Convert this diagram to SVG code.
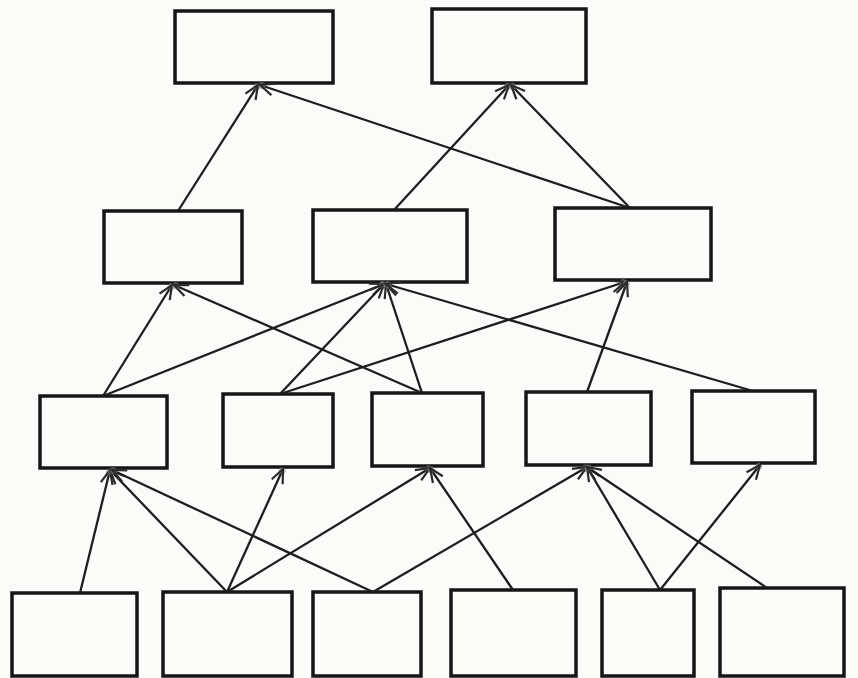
<svg xmlns="http://www.w3.org/2000/svg" width="858" height="678" viewBox="0 0 858 678">
<style>
.box{fill:none;stroke:#161616;stroke-width:3.5}
.edge{fill:none;stroke:#1e1e1e;stroke-width:2.3;marker-end:url(#arr)}
</style>
<defs>
<marker id="arr" viewBox="-16 -8 18 16" refX="0" refY="0" markerWidth="18" markerHeight="16" orient="auto" markerUnits="userSpaceOnUse">
<circle cx="-2" cy="0" r="3.5" fill="#888" opacity="0.55"/>
<path d="M-14,-6 L0,0 L-14,6" fill="none" stroke="#2a2a2a" stroke-width="2.2"/>
</marker>
</defs>
<rect x="0" y="0" width="858" height="678" fill="#fbfbfa"/>
<g id="T1"><rect class="box" x="175" y="11" width="158" height="72"/></g>
<g id="T2"><rect class="box" x="432" y="9" width="154" height="74"/></g>
<g id="B1"><rect class="box" x="104" y="211" width="138" height="72"/></g>
<g id="B2"><rect class="box" x="313" y="210" width="154" height="72"/></g>
<g id="B3"><rect class="box" x="555" y="208" width="156" height="72"/></g>
<g id="C1"><rect class="box" x="40" y="396" width="127" height="72"/></g>
<g id="C2"><rect class="box" x="223" y="394" width="110" height="73"/></g>
<g id="C3"><rect class="box" x="372" y="393" width="111" height="73"/></g>
<g id="C4"><rect class="box" x="526" y="392" width="125" height="73"/></g>
<g id="C5"><rect class="box" x="692" y="391" width="123" height="72"/></g>
<g id="D1"><rect class="box" x="12" y="593" width="125" height="83"/></g>
<g id="D2"><rect class="box" x="163" y="592" width="129" height="84"/></g>
<g id="D3"><rect class="box" x="313" y="592" width="108" height="84"/></g>
<g id="D4"><rect class="box" x="451" y="590" width="125" height="86"/></g>
<g id="D5"><rect class="box" x="602" y="590" width="92" height="86"/></g>
<g id="D6"><rect class="box" x="720" y="588" width="124" height="88"/></g>
<g id="connectors">
<line class="edge" x1="178" y1="211" x2="258" y2="85"/>
<line class="edge" x1="394" y1="210" x2="509" y2="85"/>
<line class="edge" x1="630" y1="208" x2="260" y2="85"/>
<line class="edge" x1="630" y1="208" x2="511" y2="85"/>
<line class="edge" x1="103" y1="396" x2="172" y2="285"/>
<line class="edge" x1="103" y1="396" x2="384" y2="284"/>
<line class="edge" x1="280" y1="394" x2="384" y2="284"/>
<line class="edge" x1="280" y1="394" x2="625" y2="282"/>
<line class="edge" x1="422" y1="393" x2="174" y2="285"/>
<line class="edge" x1="422" y1="393" x2="386" y2="284"/>
<line class="edge" x1="587" y1="392" x2="627" y2="282"/>
<line class="edge" x1="753" y1="391" x2="386" y2="284"/>
<line class="edge" x1="80" y1="593" x2="110" y2="470"/>
<line class="edge" x1="227" y1="592" x2="110" y2="470"/>
<line class="edge" x1="227" y1="592" x2="283" y2="469"/>
<line class="edge" x1="227" y1="592" x2="430" y2="468"/>
<line class="edge" x1="373" y1="592" x2="112" y2="470"/>
<line class="edge" x1="373" y1="592" x2="587" y2="467"/>
<line class="edge" x1="513" y1="590" x2="430" y2="468"/>
<line class="edge" x1="660" y1="590" x2="587" y2="467"/>
<line class="edge" x1="660" y1="590" x2="760" y2="465"/>
<line class="edge" x1="767" y1="588" x2="587" y2="467"/>
</g>
</svg>
